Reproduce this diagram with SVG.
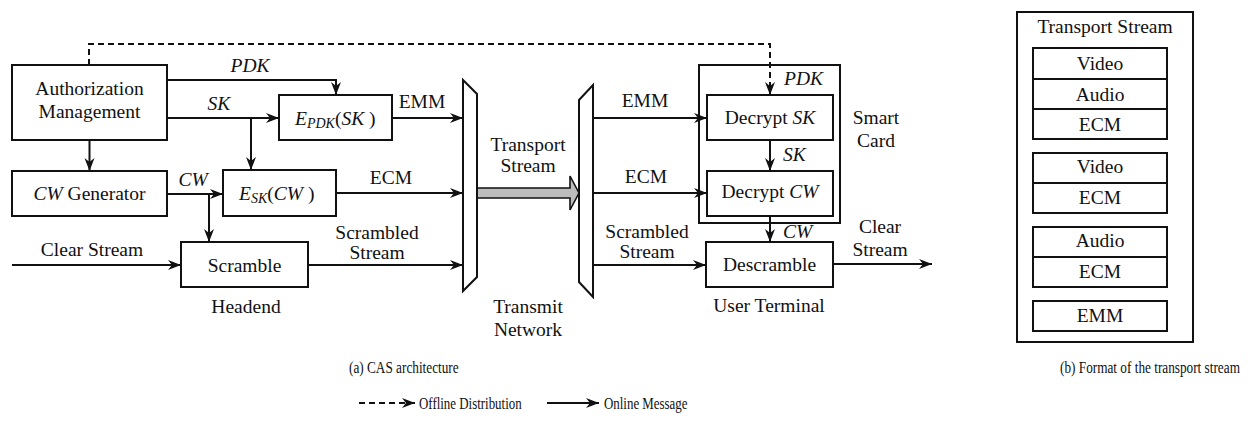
<svg xmlns="http://www.w3.org/2000/svg" width="1252" height="421" viewBox="0 0 1252 421">
  <style>
    text { font-family: "Liberation Serif", "Times New Roman", serif; font-size: 19.5px; fill: #111; }
    .it { font-style: italic; }
    .sub { font-style: italic; font-size: 14px; }
    .mid { text-anchor: middle; }
    .box { fill: #fff; stroke: #111; stroke-width: 2; }
    .frame { fill: none; stroke: #111; stroke-width: 2; }
    .ln { fill: none; stroke: #111; stroke-width: 2; }
    .arr { marker-end: url(#ah); }
    .dash { fill: none; stroke: #111; stroke-width: 2; stroke-dasharray: 6 4; }
    .cap { font-size: 17px; }
  </style>
  <defs>
    <marker id="ah" markerUnits="userSpaceOnUse" markerWidth="14" markerHeight="12" viewBox="0 0 14 12" refX="13" refY="6" orient="auto">
      <path d="M0,1 L13,6 L0,11 L4,6 z" fill="#111"/>
    </marker>
  </defs>
  <rect width="1252" height="421" fill="#fff"/>

  <!-- frames drawn first so arrows inside them stay visible -->
  <g id="smart-card">
    <rect class="frame" x="699" y="65" width="141" height="158"/>
    <text class="mid" x="876" y="124">Smart</text>
    <text class="mid" x="876" y="147">Card</text>
  </g>

  <!-- connectors -->
  <g id="connectors">
    <!-- offline distribution of PDK to the smart card -->
    <polyline class="dash arr" points="89,65 89,44 770,44 770,95"/>
    <!-- PDK and SK to E_PDK(SK) -->
    <polyline class="ln arr" points="167,80 336,80 336,95"/>
    <line class="ln arr" x1="167" y1="118" x2="279" y2="118"/>
    <line class="ln arr" x1="251" y1="118" x2="251" y2="170"/>
    <!-- authorization to CW generator -->
    <line class="ln arr" x1="89.5" y1="140" x2="89.5" y2="171"/>
    <!-- CW to E_SK(CW) and scrambler -->
    <line class="ln arr" x1="167" y1="194" x2="223" y2="194"/>
    <line class="ln arr" x1="209" y1="194" x2="209" y2="242"/>
    <!-- clear stream in -->
    <line class="ln arr" x1="12" y1="265" x2="181" y2="265"/>
    <!-- into multiplexer -->
    <line class="ln arr" x1="392" y1="118" x2="463" y2="118"/>
    <line class="ln arr" x1="336" y1="193" x2="463" y2="193"/>
    <line class="ln arr" x1="308" y1="265" x2="463" y2="265"/>
    <!-- transport stream through the network -->
    <polygon points="477,188 570,188 570,176 579,193 570,210 570,198 477,198" fill="#bdbdbd" stroke="#111" stroke-width="1.6" stroke-linejoin="miter"/>
    <!-- out of demultiplexer -->
    <line class="ln arr" x1="593" y1="118" x2="707" y2="118"/>
    <line class="ln arr" x1="593" y1="193" x2="707" y2="193"/>
    <line class="ln arr" x1="593" y1="265" x2="706" y2="265"/>
    <!-- inside the terminal -->
    <line class="ln arr" x1="770" y1="140" x2="770" y2="171"/>
    <line class="ln arr" x1="770" y1="216" x2="770" y2="242"/>
    <line class="ln arr" x1="833" y1="264" x2="932" y2="264"/>
  </g>

  <!-- headend -->
  <g id="auth-management">
    <rect class="box" x="12" y="65" width="155" height="75"/>
    <text class="mid" x="89.5" y="95">Authorization</text>
    <text class="mid" x="89.5" y="118">Management</text>
  </g>
  <g id="cw-generator">
    <rect class="box" x="12" y="171" width="155" height="45"/>
    <text class="mid" x="89.5" y="200"><tspan class="it">CW</tspan> Generator</text>
  </g>
  <g id="enc-pdk">
    <rect class="box" x="279" y="95" width="113" height="45"/>
    <text x="295" y="125"><tspan class="it">E</tspan><tspan class="sub" dy="3">PDK</tspan><tspan dy="-3">(</tspan><tspan class="it">SK</tspan> )</text>
  </g>
  <g id="enc-sk">
    <rect class="box" x="223" y="170" width="113" height="46"/>
    <text x="239" y="200"><tspan class="it">E</tspan><tspan class="sub" dy="3">SK</tspan><tspan dy="-3">(</tspan><tspan class="it">CW</tspan> )</text>
  </g>
  <g id="scramble">
    <rect class="box" x="181" y="242" width="127" height="45"/>
    <text class="mid" x="244.5" y="272">Scramble</text>
  </g>

  <!-- network -->
  <g id="mux">
    <polygon class="box" points="463,80 477,94 477,277 463,291"/>
  </g>
  <g id="demux">
    <polygon class="box" points="579,100 593,85 593,297 579,282"/>
  </g>

  <!-- user terminal -->
  <g id="decrypt-sk">
    <rect class="box" x="707" y="95" width="126" height="45"/>
    <text class="mid" x="770" y="124">Decrypt <tspan class="it">SK</tspan></text>
  </g>
  <g id="decrypt-cw">
    <rect class="box" x="707" y="171" width="126" height="45"/>
    <text class="mid" x="770" y="198">Decrypt <tspan class="it">CW</tspan></text>
  </g>
  <g id="descramble">
    <rect class="box" x="706" y="242" width="127" height="45"/>
    <text class="mid" x="769.5" y="271">Descramble</text>
  </g>

  <!-- connector labels -->
  <g id="labels">
    <text class="it mid" x="250" y="72">PDK</text>
    <text class="it mid" x="219" y="110">SK</text>
    <text class="it mid" x="193" y="186">CW</text>
    <text class="mid" x="92" y="256">Clear Stream</text>
    <text class="mid" x="377" y="239">Scrambled</text>
    <text class="mid" x="377" y="259">Stream</text>
    <text class="mid" x="422" y="108">EMM</text>
    <text class="mid" x="391" y="184">ECM</text>
    <text class="mid" x="528" y="151">Transport</text>
    <text class="mid" x="528" y="172">Stream</text>
    <text class="mid" x="645" y="107">EMM</text>
    <text class="mid" x="646" y="183">ECM</text>
    <text class="mid" x="647" y="238">Scrambled</text>
    <text class="mid" x="647" y="258">Stream</text>
    <text class="it" x="784" y="85">PDK</text>
    <text class="it" x="783" y="161">SK</text>
    <text class="it" x="783" y="238">CW</text>
    <text class="mid" x="880" y="233">Clear</text>
    <text class="mid" x="880" y="256">Stream</text>
    <text class="mid" x="246" y="313">Headend</text>
    <text class="mid" x="528" y="313">Transmit</text>
    <text class="mid" x="528" y="336">Network</text>
    <text class="mid" x="769" y="312">User Terminal</text>
  </g>

  <!-- transport stream format -->
  <g id="ts-format">
    <rect class="frame" x="1017" y="12" width="176" height="330"/>
    <text class="mid" x="1105" y="33">Transport Stream</text>
    <g id="pkt1">
      <rect class="box" x="1033" y="48" width="134" height="91"/>
      <line class="ln" x1="1033" y1="79" x2="1167" y2="79"/>
      <line class="ln" x1="1033" y1="109" x2="1167" y2="109"/>
      <text class="mid" x="1100" y="70">Video</text>
      <text class="mid" x="1100" y="101">Audio</text>
      <text class="mid" x="1100" y="131">ECM</text>
    </g>
    <g id="pkt2">
      <rect class="box" x="1033" y="153" width="134" height="60"/>
      <line class="ln" x1="1033" y1="183" x2="1167" y2="183"/>
      <text class="mid" x="1100" y="173">Video</text>
      <text class="mid" x="1100" y="204">ECM</text>
    </g>
    <g id="pkt3">
      <rect class="box" x="1033" y="227" width="134" height="60"/>
      <line class="ln" x1="1033" y1="257" x2="1167" y2="257"/>
      <text class="mid" x="1100" y="247">Audio</text>
      <text class="mid" x="1100" y="278">ECM</text>
    </g>
    <g id="pkt4">
      <rect class="box" x="1033" y="301" width="134" height="30"/>
      <text class="mid" x="1100" y="322">EMM</text>
    </g>
  </g>

  <!-- captions and legend (set in a condensed face) -->
  <g id="captions">
    <text class="cap" transform="translate(349,373) scale(0.78,1)">(a)  CAS architecture</text>
    <text class="cap" transform="translate(1060,373) scale(0.78,1)">(b)  Format of the transport stream</text>
  </g>
  <g id="legend">
    <line class="dash arr" x1="359" y1="403" x2="415" y2="403"/>
    <text class="cap" transform="translate(419,409) scale(0.76,1)">Offline Distribution</text>
    <line class="ln arr" x1="547" y1="403" x2="599" y2="403"/>
    <text class="cap" transform="translate(604,409) scale(0.76,1)">Online Message</text>
  </g>
</svg>
